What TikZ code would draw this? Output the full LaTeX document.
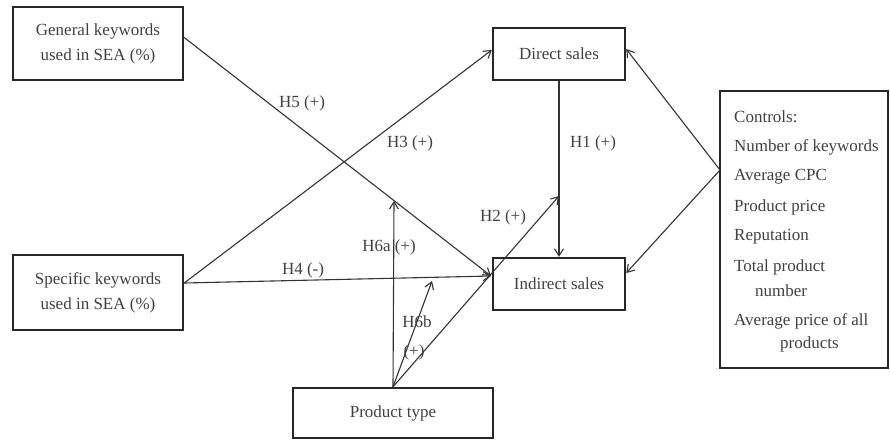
\documentclass[tikz,border=0pt]{standalone}
\usepackage{fontspec}
\setmainfont{Liberation Serif}
\usetikzlibrary{arrows.meta}

\begin{document}
\begin{tikzpicture}[x=1pt,y=-1pt,font=\fontsize{17}{25}\selectfont]
\tikzstyle{box}=[rectangle, draw=black!85, line width=2.4pt, align=center, text=black!75]
\tikzstyle{link}=[draw=black!80, line width=1.1pt, -{Straight Barb[length=7pt,width=9pt]}]
\tikzstyle{lab}=[text=black!75, inner sep=0pt]
\useasboundingbox (0,0) rectangle (890,440);

    \node[box, minimum width = 170pt,
    minimum height = 73pt] (gen) at (98,43.5) {General keywords\\used in SEA (\%)};
    \node[box, minimum width = 170pt,
    minimum height = 75pt] (spec) at (98,292.5) {Specific keywords\\used in SEA (\%)};
    \node[box, minimum width = 132pt,
    minimum height = 52pt] (direct) at (559,54) {Direct sales};
    \node[box, minimum width = 132pt,
    minimum height = 52pt] (indirect) at (559,284) {Indirect sales};
    \node[box, minimum width = 200pt,
    minimum height = 50pt] (ptype) at (393,413) {Product type};
    \node[box, minimum width = 168pt,
    minimum height = 277pt] (ctrl) at (804,229.5) {};

% controls list
\foreach \x/\y/\t [count=\i] in {734/117/Controls:, 734/147/Number of keywords,
    734/177/Average CPC, 734/207/Product price, 734/237/Reputation,
    734/267/Total product, 755/291/number, 734/321/Average price of all,
    780/344/products}
    \node[lab, anchor=west] (item\i) at (\x,\y) {\t};

\coordinate (hub) at (491,276);
\coordinate (cin) at (720,170);
\coordinate (h1pt) at (559,196);
\coordinate (h5pt) at (394,201);
\coordinate (h4pt) at (432,281);

\draw[link] ([yshift=6pt]gen.east) -- (hub);
\draw[link] ([yshift=9.5pt]spec.east) -- ([yshift=4pt]direct.west);
\draw[link] ([yshift=9.5pt]spec.east) -- (hub);
\draw[link] (direct.south) -- (indirect.north);
\draw[link] (ptype.north) -- (h1pt);
\draw[link] (ptype.north) -- (h5pt);
\draw[link] (ptype.north) -- (h4pt);
\draw[link] (cin) -- ([yshift=5pt]direct.east);
\draw[link] (cin) -- ([yshift=11pt]indirect.east);

\node[lab] (h5) at (302,103) {H5 (+)};
\node[lab] (h3) at (410,143) {H3 (+)};
\node[lab] (h1) at (593,143) {H1 (+)};
\node[lab] (h2) at (503,217) {H2 (+)};
\node[lab] (h6a) at (389,247) {H6a (+)};
\node[lab] (h4) at (303,270) {H4 (-)};
\node[lab] (h6b) at (417,322) {H6b};
\node[lab] (h6bs) at (414,352) {(+)};
\end{tikzpicture}
\end{document}
